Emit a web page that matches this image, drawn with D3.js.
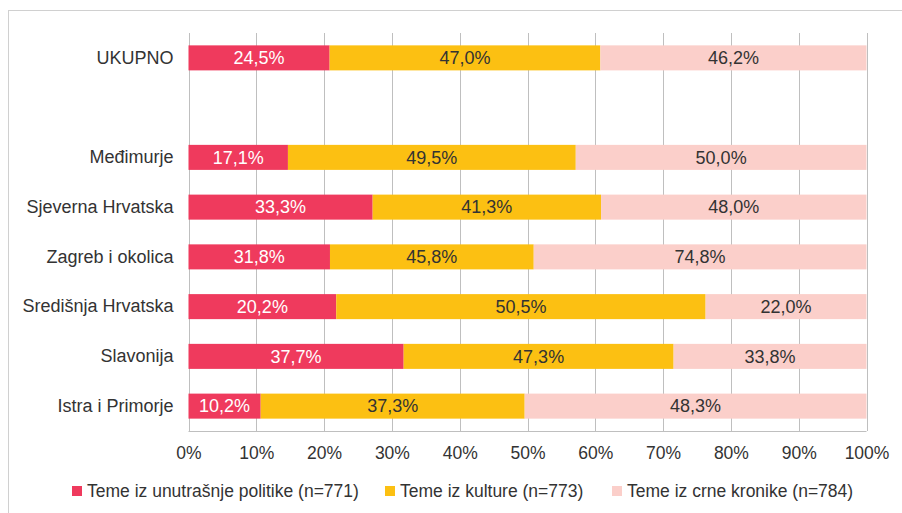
<!DOCTYPE html>
<html><head><meta charset="utf-8">
<script src="https://cdn.jsdelivr.net/npm/d3@7"></script>
<style>body{margin:0;background:#fff}svg{display:block;font-family:"Liberation Sans",Arial,sans-serif}</style>
</head><body>
<svg id="c" width="902" height="513"></svg>
<script>
const categories = ["UKUPNO", "", "Međimurje", "Sjeverna Hrvatska", "Zagreb i okolica", "Središnja Hrvatska", "Slavonija", "Istra i Primorje"];
const seriesNames = ["Teme iz unutrašnje politike (n=771)", "Teme iz kulture (n=773)", "Teme iz crne kronike (n=784)"];
const politika = [24.5, null, 17.1, 33.3, 31.8, 20.2, 37.7, 10.2];
const kultura  = [47.0, null, 49.5, 41.3, 45.8, 50.5, 47.3, 37.3];
const kronika  = [46.2, null, 50.0, 48.0, 74.8, 22.0, 33.8, 48.3];
const tickValues = [0, 0.1, 0.2, 0.3, 0.4, 0.5, 0.6, 0.7, 0.8, 0.9, 1.0];
const colors = ["#EF3A5D", "#FCC012", "#FBCFCA"];
const textColors = ["#ffffff", "#333333", "#333333"];

const svg = d3.select("#c");
svg.append("rect").attr("x", 8.5).attr("y", 10.5).attr("width", 1000).attr("height", 1000)
  .attr("fill", "none").attr("stroke", "#d0d0d0");

const x = d3.scaleLinear().domain([0, 1]).range([188.5, 866.5]);
const y = d3.scaleBand().domain(categories.map((c, i) => i)).range([33, 431]).paddingInner(0.497).paddingOuter(0.2485);

const g = svg.append("g");
// gridlines
g.selectAll("line.grid").data(tickValues).join("line")
  .attr("x1", d => Math.round(x(d)) + 0.5).attr("x2", d => Math.round(x(d)) + 0.5)
  .attr("y1", 33).attr("y2", 431).attr("stroke", "#bfbfbf").attr("stroke-width", 1);
g.append("line").attr("x1", x(0)).attr("x2", x(1)).attr("y1", 431.5).attr("y2", 431.5).attr("stroke", "#bfbfbf");

const seriesVals = [politika, kultura, kronika];
categories.forEach((c, i) => {
  if (politika[i] == null) return;
  const vals = seriesVals.map(s => s[i]);
  const total = d3.sum(vals);
  let acc = 0;
  vals.forEach((v, k) => {
    const x0 = x(acc / total), x1 = x((acc + v) / total);
    acc += v;
    g.append("rect").attr("x", x0).attr("y", y(i)).attr("width", x1 - x0).attr("height", y.bandwidth())
      .attr("fill", colors[k]);
    g.append("text").attr("x", (x0 + x1) / 2).attr("y", y(i) + y.bandwidth() / 2)
      .attr("dy", "0.35em").attr("text-anchor", "middle").attr("font-size", 18)
      .attr("fill", textColors[k]).text(v.toFixed(1).replace(".", ",") + "%");
  });
});

// category labels
const yAxis = d3.axisLeft(y).tickSize(0).tickPadding(15).tickFormat(i => categories[i]);
const ya = svg.append("g").attr("transform", `translate(${x(0)},0)`).call(yAxis);
ya.select(".domain").remove();
ya.selectAll("text").attr("font-size", 18).attr("fill", "#333").attr("font-family", "Liberation Sans, Arial, sans-serif");

// x axis
const xAxis = d3.axisBottom(x).tickValues(tickValues).tickSize(0).tickPadding(13).tickFormat(d => Math.round(d * 100) + "%");
const xa = svg.append("g").attr("transform", "translate(0,434)").call(xAxis);
xa.select(".domain").remove();
xa.selectAll("text").attr("font-size", 17.5).attr("fill", "#333").attr("font-family", "Liberation Sans, Arial, sans-serif");

// legend
const legendX = [72, 385, 612];
const leg = svg.append("g");
seriesNames.forEach((n, k) => {
  leg.append("rect").attr("x", legendX[k]).attr("y", 486).attr("width", 10).attr("height", 10).attr("fill", colors[k]);
  leg.append("text").attr("x", legendX[k] + 15).attr("y", 491).attr("dy", "0.35em")
    .attr("font-size", 17.5).attr("fill", "#333").text(n);
});
</script>
</body></html>
